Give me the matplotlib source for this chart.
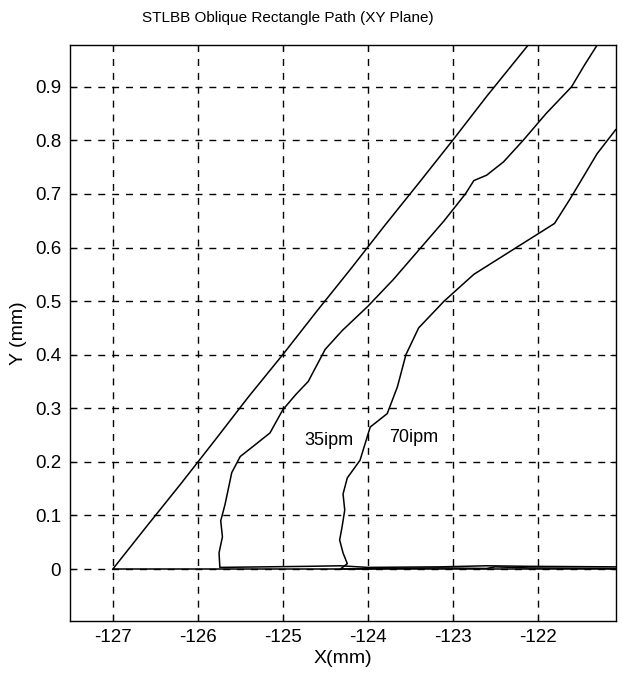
import numpy as np
import matplotlib
matplotlib.use("Agg")
import matplotlib.pyplot as plt
from matplotlib.ticker import FuncFormatter

plt.rcParams['font.family'] = ['Liberation Sans', 'DejaVu Sans']
plt.rcParams['axes.unicode_minus'] = False

# straight path (reference rectangle edge)
ref_x = [-121.08, -127.0, -126.6, -126.2, -125.8, -125.4, -125.0, -124.6,
         -124.2, -123.8, -123.4, -123.0, -122.6, -122.1]
ref_y = [0.0, 0.0, 0.08, 0.159, 0.24, 0.322, 0.40, 0.481,
         0.56, 0.641, 0.72, 0.80, 0.882, 0.98]

# 35 ipm path
p35_x = [-121.08, -122.1, -122.6, -123.15, -124.0, -124.32, -124.7, -125.74,
         -125.75, -125.71, -125.73, -125.68, -125.64, -125.6, -125.5, -125.3,
         -125.15, -125.0, -124.85, -124.7, -124.6, -124.5, -124.3, -124.0,
         -123.7, -123.4, -123.1, -122.85, -122.75, -122.6, -122.4, -122.17,
         -121.9, -121.6, -121.45, -121.29]
p35_y = [0.004, 0.005, 0.006, 0.004, 0.003, 0.006, 0.005, 0.003,
         0.03, 0.06, 0.09, 0.12, 0.15, 0.18, 0.21, 0.235,
         0.254, 0.297, 0.325, 0.35, 0.38, 0.41, 0.445, 0.49,
         0.54, 0.595, 0.65, 0.70, 0.725, 0.735, 0.76, 0.80,
         0.85, 0.90, 0.94, 0.98]

# 70 ipm path
p70_x = [-121.08, -122.1, -122.5, -122.6, -123.15, -124.32, -124.24, -124.29,
         -124.33, -124.3, -124.27, -124.29, -124.24, -124.09, -123.97, -123.85,
         -123.77, -123.65, -123.55, -123.4, -123.1, -122.75, -122.3, -121.8,
         -121.62, -121.45, -121.3, -121.08]
p70_y = [0.001, 0.002, 0.004, 0.001, 0.002, 0.0, 0.01, 0.03,
         0.054, 0.08, 0.11, 0.14, 0.17, 0.203, 0.265, 0.28,
         0.29, 0.34, 0.40, 0.45, 0.50, 0.55, 0.595, 0.645,
         0.69, 0.735, 0.775, 0.82]

x_ticks = [-127, -126, -125, -124, -123, -122]
y_ticks = [0, 0.1, 0.2, 0.3, 0.4, 0.5, 0.6, 0.7, 0.8, 0.9]

fig = plt.figure(figsize=(6.23, 6.76), dpi=100)
ax = fig.add_axes([0.1116, 0.0814, 0.8767, 0.852])

for xs, ys in [(ref_x, ref_y), (p35_x, p35_y), (p70_x, p70_y)]:
    ax.plot(xs, ys, color='black', lw=1.1)

ax.set_xlim(-127.51, -121.08)
ax.set_ylim(-0.097, 0.978)
ax.set_xticks(x_ticks)
ax.set_yticks(y_ticks)
ax.yaxis.set_major_formatter(FuncFormatter(lambda v, p: '0' if abs(v) < 1e-9 else f'{v:.1f}'))
ax.xaxis.set_major_formatter(FuncFormatter(lambda v, p: f'{v:.0f}'))
ax.tick_params(direction='in', length=4, labelsize=13.5, top=True, right=True, pad=6)
ax.grid(True, color='black', linestyle=(0, (5, 5)), linewidth=1.0)
for s in ax.spines.values():
    s.set_linewidth(1.0)

ax.text(-124.75, 0.24, '35ipm', fontsize=13, va='center', ha='left')
ax.text(-123.75, 0.245, '70ipm', fontsize=13, va='center', ha='left')

ax.set_xlabel('X(mm)', fontsize=14, labelpad=3)
ax.set_ylabel('Y (mm)', fontsize=14, labelpad=6)
fig.text(0.462, 0.974, 'STLBB Oblique Rectangle Path (XY Plane)',
         fontsize=11, ha='center', va='center')

fig.savefig('out.png', dpi=100)
